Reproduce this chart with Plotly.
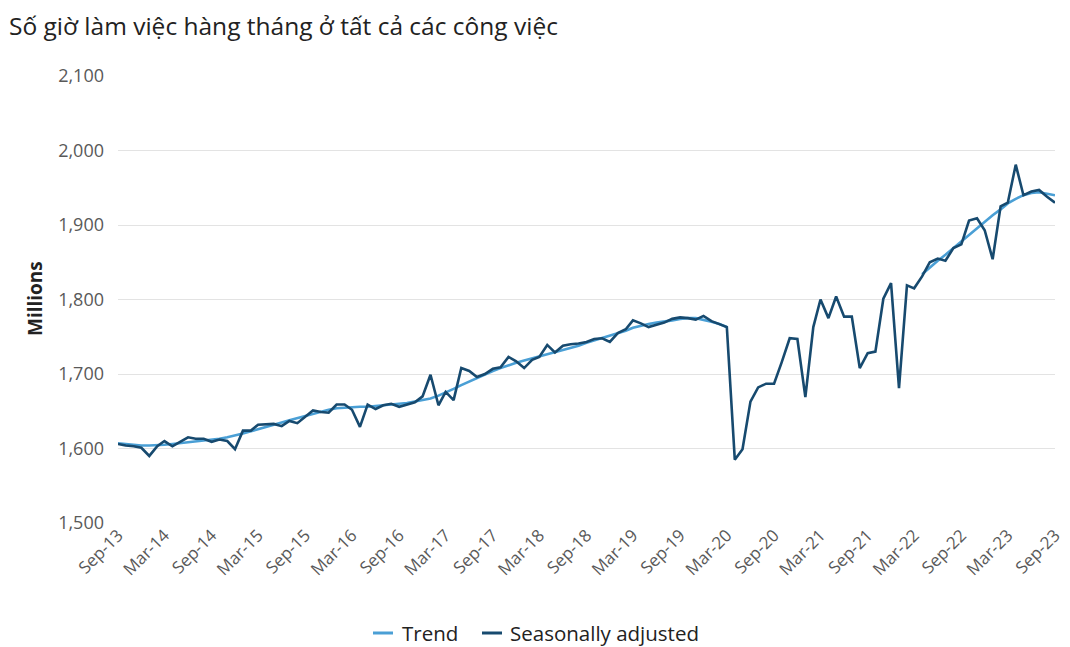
import pandas as pd
import plotly.graph_objects as go

# Monthly, Sep-2013 .. Sep-2023
months = pd.date_range("2013-09-01", "2023-09-01", freq="MS")

seasonally_adjusted = [
    1606, 1604, 1603, 1601, 1590, 1603, 1610, 1603, 1609, 1615, 1613, 1613,
    1609, 1612, 1610, 1599, 1624, 1624, 1632, 1632, 1633, 1630, 1637, 1634,
    1643, 1651, 1649, 1648, 1659, 1659, 1652, 1629, 1659, 1653, 1658, 1660,
    1656, 1659, 1662, 1670, 1699, 1658, 1676, 1665, 1708, 1704, 1696, 1700,
    1707, 1709, 1723, 1717, 1708, 1719, 1723, 1739, 1729, 1738, 1740, 1741,
    1743, 1747, 1748, 1743, 1755, 1760, 1772, 1768, 1763, 1766, 1769, 1774,
    1776, 1775, 1773, 1778, 1771, 1767, 1763, 1585, 1599, 1663, 1682, 1687,
    1687, 1716, 1748, 1747, 1669, 1763, 1800, 1775, 1804, 1777, 1777, 1708,
    1728, 1730, 1801, 1822, 1681, 1819, 1815, 1831, 1850, 1855, 1852, 1869,
    1874, 1906, 1909, 1893, 1854, 1925, 1930, 1981, 1940, 1945, 1947, 1938,
    1930,
]

trend = [
    1607, 1606, 1605, 1604, 1604, 1604, 1605, 1606, 1607, 1609, 1610, 1611,
    1612, 1613, 1615, 1617, 1620, 1623, 1626, 1629, 1632, 1635, 1638, 1641,
    1644, 1647, 1650, 1652, 1654, 1655, 1656, 1656, 1656, 1657, 1658, 1659,
    1660, 1661, 1663, 1665, 1667, 1671, 1675, 1680, 1685, 1690, 1695, 1700,
    1704, 1708, 1712, 1715, 1718, 1721, 1723, 1726, 1729, 1732, 1735, 1738,
    1742, 1745, 1748, 1751, 1755, 1758, 1762, 1765, 1767, 1769, 1770, 1772,
    1774, 1775, 1775, 1773, 1770, 1767, 1763, None, None, None, None, None,
    None, None, None, None, None, None, None, None, None, None, None, None,
    None, None, None, None, None, None, None, 1834, 1843, 1852, 1860, 1869,
    1878, 1887, 1896, 1904, 1913, 1921, 1929, 1935, 1940, 1943, 1944, 1942,
    1940,
]

title_text = "Số giờ làm việc hàng tháng ở tất cả các công việc"
y_title = "Millions"
y_ticks = [1500, 1600, 1700, 1800, 1900, 2000, 2100]
series_names = ["Trend", "Seasonally adjusted"]
series_colors = ["#4a9fd5", "#174a6f"]

FONT = "Open Sans"
OFF = 8  # page body margin
W, H = 1070 - OFF, 647 - OFF
L, R, T, B = 118 - OFF, 15, 76 - OFF, 124
plot_h = H - T - B
plot_w = W - L - R

def px_x(x):  # reference screen px -> paper
    return (x - OFF - L) / plot_w

def px_y(y):
    return 1 - (y - OFF - T) / plot_h

fig = go.Figure()
for name, vals, col in zip(series_names, [trend, seasonally_adjusted], series_colors):
    fig.add_trace(go.Scatter(
        x=months, y=vals, name=name, mode="lines",
        line=dict(color=col, width=2.6), connectgaps=False, showlegend=False,
    ))

fig.update_layout(
    width=W, height=H,
    margin=dict(l=L, r=R, t=T, b=B, autoexpand=False),
    paper_bgcolor="white", plot_bgcolor="white",
    font=dict(family=FONT, color="#222222"),
    showlegend=False,
    xaxis=dict(
        type="date", automargin=False,
        range=[months[0], months[-1]],
        tickvals=months[::6], tickformat="%b-%y",
        tickangle=-45,
        tickfont=dict(family=FONT, size=17, color="#595959"),
        showgrid=False, showline=False, zeroline=False, ticks="",
        ticklabelstandoff=-2,
    ),
    yaxis=dict(
        automargin=False,
        range=[1500, 2100],
        tickvals=y_ticks, tickformat=",.0f",
        tickfont=dict(family=FONT, size=18, color="#595959"),
        gridcolor="#e3e3e3", gridwidth=1,
        showline=False, zeroline=False, ticks="",
        ticklabelstandoff=13,
    ),
)

# legend (drawn manually to match spacing)
legend_line_x = [(373, 393), (482, 502)]
legend_text_x = [400, 508]
ly = px_y(633)
for (x0, x1), tx, name, col in zip(legend_line_x, legend_text_x, series_names, series_colors):
    fig.add_shape(type="line", xref="paper", yref="paper",
                  x0=px_x(x0), x1=px_x(x1), y0=ly, y1=ly,
                  line=dict(color=col, width=3))
    fig.add_annotation(text=name, showarrow=False, xref="paper", yref="paper",
                       x=px_x(tx), xanchor="left", y=ly, yanchor="middle",
                       font=dict(family=FONT, size=20.5, color="#222222"))

fig.add_annotation(
    text=title_text, showarrow=False,
    xref="paper", yref="paper", borderpad=0,
    x=px_x(8), xanchor="left", y=px_y(8), yanchor="top",
    font=dict(family=FONT, size=24.5, color="#222222"),
)

fig.add_annotation(
    text=y_title, textangle=-90, showarrow=False,
    xref="paper", yref="paper",
    x=px_x(35), xanchor="center",
    y=px_y(299), yanchor="middle",
    font=dict(family=FONT, size=19, color="#222222", weight="bold"),
)

fig.write_html("out.html")
